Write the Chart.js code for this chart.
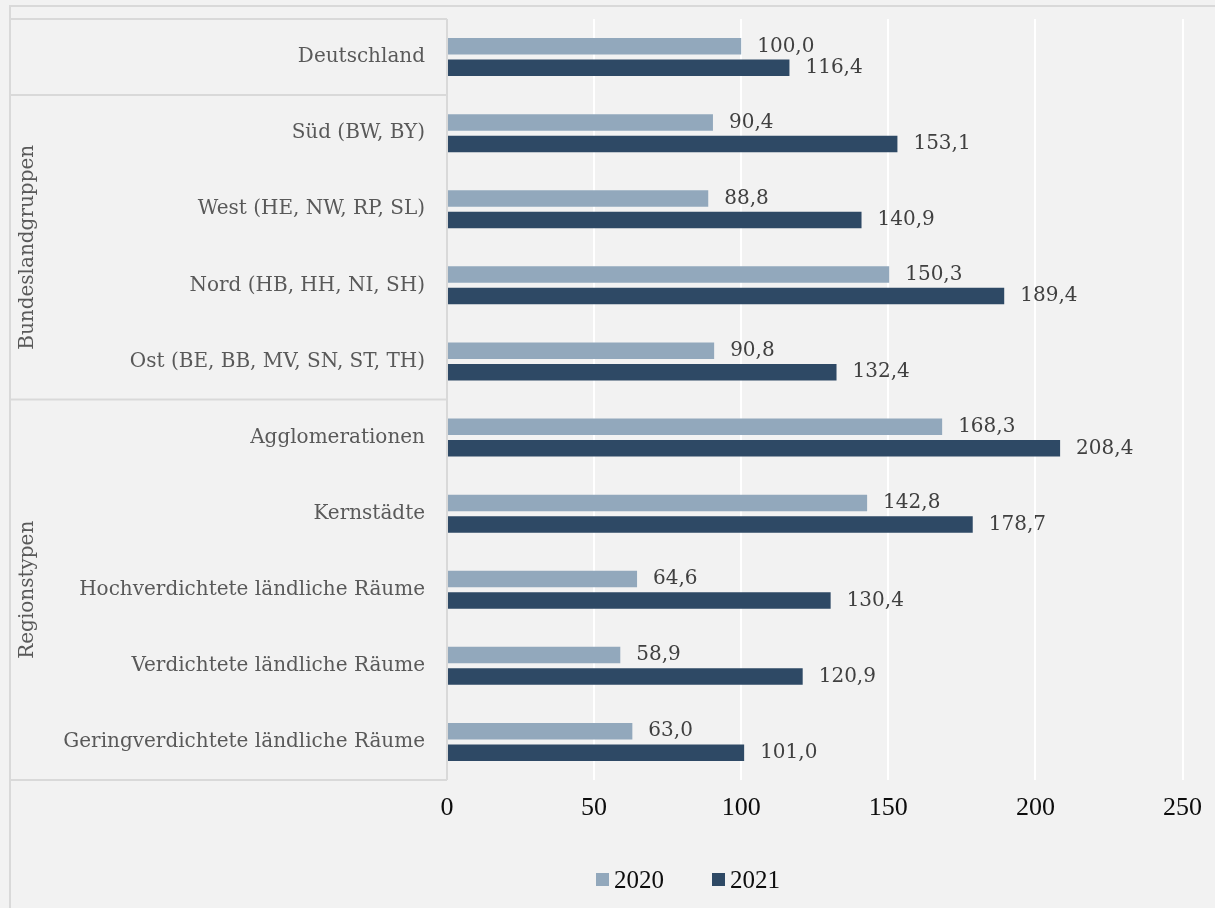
<!DOCTYPE html>
<html lang="de">
<head>
<meta charset="utf-8">
<title>Index 2020 / 2021</title>
<script src="https://cdn.jsdelivr.net/npm/chart.js@4/dist/chart.umd.min.js"></script>
<style>
  html, body { margin: 0; padding: 0; background: #f2f2f2; }
  #wrap { width: 1215px; height: 908px; }
</style>
</head>
<body>
<div id="wrap"><canvas id="indexChart" width="1215" height="908"></canvas></div>
<script>
const categories = [
  "Deutschland",
  "Süd (BW, BY)",
  "West (HE, NW, RP, SL)",
  "Nord (HB, HH, NI, SH)",
  "Ost (BE, BB, MV, SN, ST, TH)",
  "Agglomerationen",
  "Kernstädte",
  "Hochverdichtete ländliche Räume",
  "Verdichtete ländliche Räume",
  "Geringverdichtete ländliche Räume",
];
const values2020 = [100.0, 90.4, 88.8, 150.3, 90.8, 168.3, 142.8, 64.6, 58.9, 63.0];
const values2021 = [116.4, 153.1, 140.9, 189.4, 132.4, 208.4, 178.7, 130.4, 120.9, 101.0];
const seriesNames = ["2020", "2021"];
const xTicks = [0, 50, 100, 150, 200, 250];
const groupLabels = ["", "Bundeslandgruppen", "Regionstypen"];
const groupSizes = [1, 4, 5];

const colors = ["#92a8bc", "#2e4965"];
const lineGray = "#d9d9d9";
const serif = "'DejaVu Serif', serif";
const tickFont = "'Liberation Serif', serif";

const fmt = (v) => v.toFixed(1).replace(".", ",");

// outer frame, category table with group labels
const tablePlugin = {
  id: "table",
  beforeDraw(chart) {
    const ctx = chart.ctx;
    ctx.save();
    ctx.fillStyle = "#f2f2f2";
    ctx.fillRect(0, 0, chart.width, chart.height);
    ctx.strokeStyle = lineGray;
    ctx.lineWidth = 2;
    ctx.beginPath();
    ctx.moveTo(9, 6);
    ctx.lineTo(chart.width, 6);
    ctx.moveTo(10, 6);
    ctx.lineTo(10, chart.height);
    ctx.stroke();
    ctx.restore();
  },
  afterDraw(chart) {
    const ctx = chart.ctx;
    const y = chart.scales.y;
    const area = chart.chartArea;
    const left = 10;
    const right = area.left;
    const edge = (i) => {
      if (i <= 0) return area.top;
      if (i >= categories.length) return area.bottom;
      return (y.getPixelForValue(i - 1) + y.getPixelForValue(i)) / 2;
    };
    ctx.save();
    ctx.strokeStyle = lineGray;
    ctx.lineWidth = 2;
    ctx.beginPath();
    ctx.moveTo(right, area.top);
    ctx.lineTo(right, area.bottom);
    let idx = 0;
    const bounds = [edge(0)];
    groupSizes.forEach((n) => {
      idx += n;
      bounds.push(edge(idx));
    });
    bounds.forEach((b) => {
      ctx.moveTo(left, b);
      ctx.lineTo(right, b);
    });
    ctx.stroke();

    ctx.fillStyle = "#595959";
    ctx.font = "20px " + serif;
    ctx.textAlign = "center";
    ctx.textBaseline = "middle";
    groupLabels.forEach((label, g) => {
      if (!label) return;
      const cy = (bounds[g] + bounds[g + 1]) / 2;
      ctx.save();
      ctx.translate(28, cy);
      ctx.rotate(-Math.PI / 2);
      ctx.fillText(label, 0, 0);
      ctx.restore();
    });
    ctx.restore();
  },
};

// value labels to the right of each bar
const valueLabels = {
  id: "valueLabels",
  afterDatasetsDraw(chart) {
    const ctx = chart.ctx;
    ctx.save();
    ctx.fillStyle = "#404040";
    ctx.font = "20px " + serif;
    ctx.textAlign = "left";
    ctx.textBaseline = "middle";
    chart.data.datasets.forEach((ds, di) => {
      chart.getDatasetMeta(di).data.forEach((bar, i) => {
        ctx.fillText(fmt(ds.data[i]), bar.x + 16, bar.y);
      });
    });
    ctx.restore();
  },
};

// legend below the axis
const bottomLegend = {
  id: "bottomLegend",
  afterDraw(chart) {
    const ctx = chart.ctx;
    const cy = 880;
    let x = 596;
    ctx.save();
    ctx.font = "25px " + tickFont;
    ctx.textBaseline = "middle";
    ctx.textAlign = "left";
    chart.data.datasets.forEach((ds) => {
      ctx.fillStyle = ds.backgroundColor;
      ctx.fillRect(x, cy - 7, 13, 13);
      ctx.fillStyle = "#0d0d0d";
      ctx.fillText(ds.label, x + 18, cy + 1);
      x += 116;
    });
    ctx.restore();
  },
};

const chart = new Chart(document.getElementById("indexChart"), {
  type: "bar",
  data: {
    labels: categories,
    datasets: [
      { label: seriesNames[0], data: values2020, backgroundColor: colors[0] },
      { label: seriesNames[1], data: values2021, backgroundColor: colors[1] },
    ],
  },
  options: {
    indexAxis: "y",
    responsive: false,
    animation: false,
    devicePixelRatio: 1,
    categoryPercentage: 0.565,
    barPercentage: 0.767,
    layout: { padding: { top: 19, right: 31, left: 0, bottom: 0 } },
    scales: {
      x: {
        min: xTicks[0],
        max: xTicks[xTicks.length - 1],
        afterBuildTicks(scale) {
          scale.ticks = xTicks.map((v) => ({ value: v }));
        },
        afterFit(scale) {
          scale.height = 128;
        },
        border: { display: false },
        grid: {
          drawTicks: false,
          lineWidth: 2,
          color: (c) => (c.tick && c.tick.value === 0 ? lineGray : "#ffffff"),
        },
        ticks: {
          padding: 13,
          color: "#0d0d0d",
          font: { family: tickFont, size: 26 },
        },
      },
      y: {
        afterFit(scale) {
          scale.width = 447;
          scale.paddingTop = 0;
          scale.paddingBottom = 0;
        },
        border: { display: false },
        grid: { display: false, drawTicks: false },
        ticks: {
          padding: 22,
          color: "#595959",
          font: { family: serif, size: 20 },
          autoSkip: false,
        },
      },
    },
    plugins: {
      legend: { display: false },
      tooltip: { enabled: false },
    },
  },
  plugins: [tablePlugin, valueLabels, bottomLegend],
});
</script>
</body>
</html>
